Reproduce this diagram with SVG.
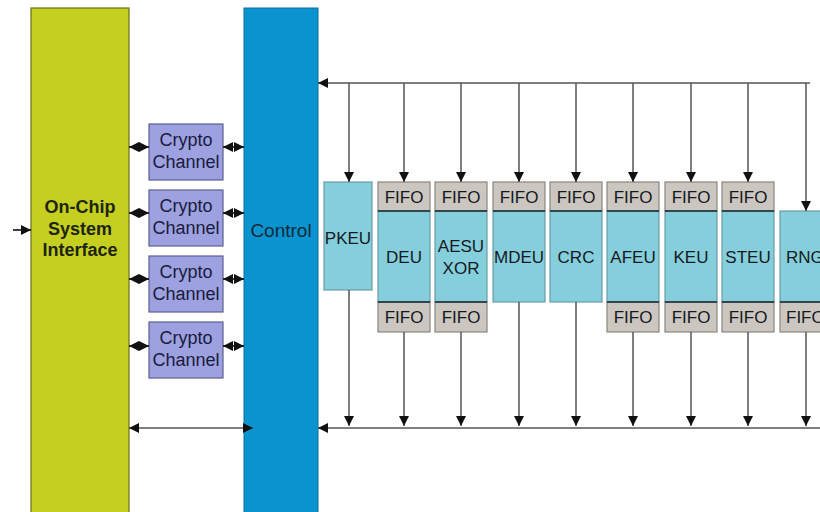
<svg xmlns="http://www.w3.org/2000/svg" width="820" height="512" viewBox="0 0 820 512">
<defs>
<marker id="ah" viewBox="0 0 10 10" refX="10" refY="5" markerWidth="10" markerHeight="10" markerUnits="userSpaceOnUse" orient="auto-start-reverse">
<path d="M0,0 L10,5 L0,10 z" fill="#111"/>
</marker>
<style>
text{font-family:"Liberation Sans",Arial,sans-serif;fill:#15191f;text-anchor:middle}
.lbl{font-size:17px}
.cc{font-size:18px;fill:#191b3d}
.big{font-size:18px;font-weight:bold;fill:#1e2410}
.fifo{fill:#ccc6c0;stroke:#8a8580;stroke-width:1.2}
.body{fill:#85cfdc;stroke:#6a9ca6;stroke-width:1.2}
.div{stroke:#34464c;stroke-width:2}
.crypto{fill:#9da1df;stroke:#5c6090;stroke-width:1.2}
.wire{stroke:#555;stroke-width:1.5;fill:none}
.bw{stroke:#111;stroke-width:1.6;fill:none}
</style>
</defs>
<rect width="820" height="512" fill="#fff"/>

<g id="onchip">
<rect x="31" y="8" width="98" height="510" fill="#c5cf20" stroke="#6a6d1c" stroke-width="1.2"/>
<text class="big" x="80" y="213">On-Chip</text>
<text class="big" x="80" y="235">System</text>
<text class="big" x="80" y="256">Interface</text>
</g>

<g id="control">
<rect x="244" y="8" width="74" height="510" fill="#0993cf" stroke="#0a6fa0" stroke-width="1"/>
<text x="281" y="237" style="font-size:19px;fill:#0f2a3a">Control</text>
</g>

<g id="cc1"><rect class="crypto" x="149" y="124" width="74" height="56"/><text class="cc" x="186" y="146">Crypto</text><text class="cc" x="186" y="168">Channel</text></g>
<g id="cc2"><rect class="crypto" x="149" y="190" width="74" height="56"/><text class="cc" x="186" y="212">Crypto</text><text class="cc" x="186" y="234">Channel</text></g>
<g id="cc3"><rect class="crypto" x="149" y="256" width="74" height="56"/><text class="cc" x="186" y="278">Crypto</text><text class="cc" x="186" y="300">Channel</text></g>
<g id="cc4"><rect class="crypto" x="149" y="322" width="74" height="56"/><text class="cc" x="186" y="344">Crypto</text><text class="cc" x="186" y="366">Channel</text></g>

<g id="pkeu"><rect class="body" x="324" y="182" width="48" height="108"/><text class="lbl" x="348" y="244">PKEU</text></g>

<g id="deu">
<rect class="fifo" x="378" y="182" width="52" height="29"/><text class="lbl" x="404" y="203">FIFO</text>
<rect class="body" x="378" y="211" width="52" height="91"/><text class="lbl" x="404" y="263">DEU</text>
<rect class="fifo" x="378" y="302" width="52" height="30"/><text class="lbl" x="404" y="323">FIFO</text>
<line class="div" x1="378" y1="211" x2="430" y2="211"/><line class="div" x1="378" y1="302" x2="430" y2="302"/>
</g>
<g id="aesu">
<rect class="fifo" x="435" y="182" width="52" height="29"/><text class="lbl" x="461" y="203">FIFO</text>
<rect class="body" x="435" y="211" width="52" height="91"/><text class="lbl" x="461" y="252">AESU</text><text class="lbl" x="461" y="274">XOR</text>
<rect class="fifo" x="435" y="302" width="52" height="30"/><text class="lbl" x="461" y="323">FIFO</text>
<line class="div" x1="435" y1="211" x2="487" y2="211"/><line class="div" x1="435" y1="302" x2="487" y2="302"/>
</g>
<g id="mdeu">
<rect class="fifo" x="493" y="182" width="52" height="29"/><text class="lbl" x="519" y="203">FIFO</text>
<rect class="body" x="493" y="211" width="52" height="91"/><text class="lbl" x="519" y="263">MDEU</text>
<line class="div" x1="493" y1="211" x2="545" y2="211"/>
</g>
<g id="crc">
<rect class="fifo" x="550" y="182" width="52" height="29"/><text class="lbl" x="576" y="203">FIFO</text>
<rect class="body" x="550" y="211" width="52" height="91"/><text class="lbl" x="576" y="263">CRC</text>
<line class="div" x1="550" y1="211" x2="602" y2="211"/>
</g>
<g id="afeu">
<rect class="fifo" x="607" y="182" width="52" height="29"/><text class="lbl" x="633" y="203">FIFO</text>
<rect class="body" x="607" y="211" width="52" height="91"/><text class="lbl" x="633" y="263">AFEU</text>
<rect class="fifo" x="607" y="302" width="52" height="30"/><text class="lbl" x="633" y="323">FIFO</text>
<line class="div" x1="607" y1="211" x2="659" y2="211"/><line class="div" x1="607" y1="302" x2="659" y2="302"/>
</g>
<g id="keu">
<rect class="fifo" x="665" y="182" width="52" height="29"/><text class="lbl" x="691" y="203">FIFO</text>
<rect class="body" x="665" y="211" width="52" height="91"/><text class="lbl" x="691" y="263">KEU</text>
<rect class="fifo" x="665" y="302" width="52" height="30"/><text class="lbl" x="691" y="323">FIFO</text>
<line class="div" x1="665" y1="211" x2="717" y2="211"/><line class="div" x1="665" y1="302" x2="717" y2="302"/>
</g>
<g id="steu">
<rect class="fifo" x="722" y="182" width="52" height="29"/><text class="lbl" x="748" y="203">FIFO</text>
<rect class="body" x="722" y="211" width="52" height="91"/><text class="lbl" x="748" y="263">STEU</text>
<rect class="fifo" x="722" y="302" width="52" height="30"/><text class="lbl" x="748" y="323">FIFO</text>
<line class="div" x1="722" y1="211" x2="774" y2="211"/><line class="div" x1="722" y1="302" x2="774" y2="302"/>
</g>
<g id="rng">
<rect class="body" x="780" y="211" width="52" height="91"/><text class="lbl" x="786" y="263" style="text-anchor:start">RNG</text>
<rect class="fifo" x="780" y="302" width="52" height="30"/><text class="lbl" x="786" y="323" style="text-anchor:start">FIFO</text>
<line class="div" x1="780" y1="302" x2="832" y2="302"/>
</g>

<g id="connectors">
<line class="bw" x1="13" y1="230" x2="31" y2="230" marker-end="url(#ah)"/>
<line class="bw" x1="129" y1="147" x2="149" y2="147" marker-start="url(#ah)" marker-end="url(#ah)"/>
<line class="bw" x1="223" y1="147" x2="244" y2="147" marker-start="url(#ah)" marker-end="url(#ah)"/>
<line class="bw" x1="129" y1="213" x2="149" y2="213" marker-start="url(#ah)" marker-end="url(#ah)"/>
<line class="bw" x1="223" y1="213" x2="244" y2="213" marker-start="url(#ah)" marker-end="url(#ah)"/>
<line class="bw" x1="129" y1="279" x2="149" y2="279" marker-start="url(#ah)" marker-end="url(#ah)"/>
<line class="bw" x1="223" y1="279" x2="244" y2="279" marker-start="url(#ah)" marker-end="url(#ah)"/>
<line class="bw" x1="129" y1="346" x2="149" y2="346" marker-start="url(#ah)" marker-end="url(#ah)"/>
<line class="bw" x1="223" y1="346" x2="244" y2="346" marker-start="url(#ah)" marker-end="url(#ah)"/>
<line class="wire" x1="129" y1="428" x2="253" y2="428" marker-start="url(#ah)" marker-end="url(#ah)"/>

<line class="wire" x1="810" y1="83" x2="318" y2="83" marker-end="url(#ah)"/>
<line class="wire" x1="349" y1="83" x2="349" y2="182" marker-end="url(#ah)"/>
<line class="wire" x1="404" y1="83" x2="404" y2="182" marker-end="url(#ah)"/>
<line class="wire" x1="461" y1="83" x2="461" y2="182" marker-end="url(#ah)"/>
<line class="wire" x1="519" y1="83" x2="519" y2="182" marker-end="url(#ah)"/>
<line class="wire" x1="576" y1="83" x2="576" y2="182" marker-end="url(#ah)"/>
<line class="wire" x1="633" y1="83" x2="633" y2="182" marker-end="url(#ah)"/>
<line class="wire" x1="691" y1="83" x2="691" y2="182" marker-end="url(#ah)"/>
<line class="wire" x1="748" y1="83" x2="748" y2="182" marker-end="url(#ah)"/>
<line class="wire" x1="806" y1="83" x2="806" y2="211" marker-end="url(#ah)"/>

<line class="wire" x1="820" y1="428" x2="318" y2="428" marker-end="url(#ah)"/>
<line class="wire" x1="349" y1="290" x2="349" y2="426" marker-end="url(#ah)"/>
<line class="wire" x1="404" y1="332" x2="404" y2="426" marker-end="url(#ah)"/>
<line class="wire" x1="461" y1="332" x2="461" y2="426" marker-end="url(#ah)"/>
<line class="wire" x1="519" y1="302" x2="519" y2="426" marker-end="url(#ah)"/>
<line class="wire" x1="576" y1="302" x2="576" y2="426" marker-end="url(#ah)"/>
<line class="wire" x1="633" y1="332" x2="633" y2="426" marker-end="url(#ah)"/>
<line class="wire" x1="691" y1="332" x2="691" y2="426" marker-end="url(#ah)"/>
<line class="wire" x1="748" y1="332" x2="748" y2="426" marker-end="url(#ah)"/>
<line class="wire" x1="806" y1="332" x2="806" y2="426" marker-end="url(#ah)"/>
</g>
</svg>
